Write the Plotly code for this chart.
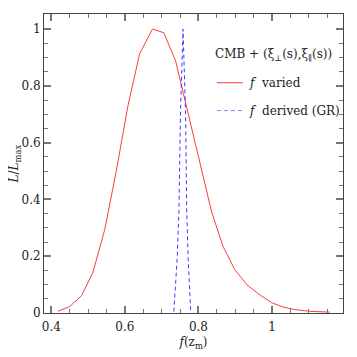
import plotly.graph_objects as go

# f varied (red solid)
f_varied = [0.418, 0.450, 0.482, 0.513, 0.545, 0.577, 0.608, 0.640, 0.675, 0.706,
            0.738, 0.770, 0.803, 0.836, 0.867, 0.899, 0.932, 0.967, 0.998, 1.030,
            1.062, 1.103, 1.157]
L_varied = [0.006, 0.023, 0.061, 0.143, 0.293, 0.503, 0.728, 0.913, 1.000, 0.987,
            0.887, 0.715, 0.535, 0.355, 0.234, 0.152, 0.099, 0.064, 0.037, 0.021,
            0.012, 0.006, 0.003]

# f derived (GR) (blue dashed)
f_gr = [0.733, 0.742, 0.747, 0.751, 0.758, 0.765, 0.768, 0.772, 0.779]
L_gr = [0.005, 0.190, 0.360, 0.700, 1.000, 0.700, 0.360, 0.190, 0.005]

x_ticks = [0.4, 0.6, 0.8, 1.0]
x_labels = ["0.4", "0.6", "0.8", "1"]
y_ticks = [0, 0.2, 0.4, 0.6, 0.8, 1.0]
y_labels = ["0", "0.2", "0.4", "0.6", "0.8", "1"]

RED = "#ff3b3b"
BLUE = "#3c3cff"
FONT = "DejaVu Serif"

fig = go.Figure()
fig.add_trace(go.Scatter(x=f_varied, y=L_varied, mode="lines",
                         line=dict(color=RED, width=1), showlegend=False))
fig.add_trace(go.Scatter(x=f_gr, y=L_gr, mode="lines",
                         line=dict(color=BLUE, width=1, dash="4px,3px"), showlegend=False))

axis_common = dict(
    showline=True, linecolor="#444", linewidth=1, mirror="ticks",
    ticks="inside", ticklen=7, tickwidth=1.5, tickcolor="#777",
    showgrid=False, zeroline=False, automargin=False,
    tickfont=dict(family=FONT, size=12, color="#222"),
    minor=dict(ticks="inside", ticklen=4, tickwidth=1, tickcolor="#777", dtick=0.05, showgrid=False),
)

fig.update_xaxes(range=[0.38, 1.193], tickvals=x_ticks, ticktext=x_labels,
                 ticklabelstandoff=3,
                 title=dict(text="<i>f</i>(z<sub>m</sub>)", font=dict(family=FONT, size=12, color="#222"),
                            standoff=4),
                 **axis_common)
# an en space after each label pushes it a few px away from the axis, as in the original
fig.update_yaxes(range=[0, 1.053], tickvals=y_ticks, ticksuffix="\u2002",
                 ticktext=y_labels,
                 **axis_common)

# y title as an annotation; the figure starts 8px into the page, so keep it inside
fig.add_annotation(xref="paper", yref="paper", x=-0.097, y=0.5, xanchor="center", yanchor="middle",
                   text="<i>L</i>/<i>L</i><sub>max</sub>", textangle=-90, showarrow=False,
                   font=dict(family=FONT, size=12, color="#222"))

# legend block, drawn by hand to match the original layout
leg_font = dict(family=FONT, size=12, color="#222")
fig.add_annotation(xref="paper", yref="paper", x=0.566, y=0.862, xanchor="left", yanchor="middle",
                   text="CMB + (ξ<sub>⊥</sub>(s),ξ<sub>∥</sub>(s))", showarrow=False, font=leg_font)
fig.add_shape(type="line", xref="paper", yref="paper", x0=0.578, x1=0.665, y0=0.77, y1=0.77,
              line=dict(color=RED, width=1))
fig.add_annotation(xref="paper", yref="paper", x=0.68, y=0.77, xanchor="left", yanchor="middle",
                   text="<i>f</i>  varied", showarrow=False, font=leg_font)
fig.add_shape(type="line", xref="paper", yref="paper", x0=0.578, x1=0.665, y0=0.677, y1=0.677,
              line=dict(color="#8080ff", width=1, dash="4px,3px"))
fig.add_annotation(xref="paper", yref="paper", x=0.68, y=0.677, xanchor="left", yanchor="middle",
                   text="<i>f</i>  derived (GR)", showarrow=False, font=leg_font)

# the page body has an 8px margin, so the plot box is offset to land where the original's is
fig.update_layout(
    width=357, height=357,
    margin=dict(l=36, r=22, t=6, b=52),
    paper_bgcolor="white", plot_bgcolor="white",
    showlegend=False,
)

fig.write_html("out.html")
